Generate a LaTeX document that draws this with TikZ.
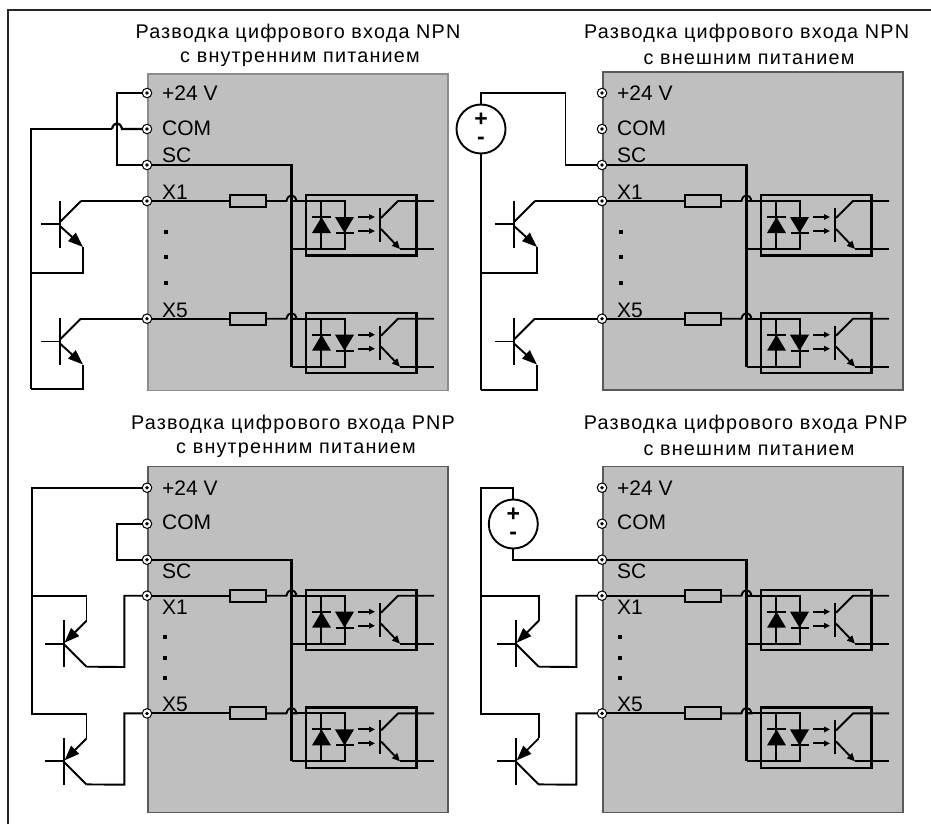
\documentclass[tikz,border=0pt]{standalone}
\usepackage{fontspec}
\setmainfont{Liberation Sans}
\newfontfamily\titlefont[LetterSpace=6]{Liberation Sans}
\usetikzlibrary{arrows.meta}
\definecolor{boxgray}{HTML}{BFBFBF}
\definecolor{boxedge}{HTML}{5A5A5A}
\tikzset{
  wire/.style={line width=1.9pt,line join=miter},
  heavy/.style={line width=2.2pt},
  terminal/.style={circle,draw=black,fill=white,inner sep=0pt,minimum size=9.5pt,line width=1pt,
    path picture={\fill[black] (path picture bounding box.center) circle (1.9pt);}},
  resistor/.style={rectangle,draw=black,fill=boxgray,line width=1.9pt,inner sep=0pt,minimum width=36pt,minimum height=12pt},
  pinlabel/.style={anchor=west,inner sep=0pt,font=\fontsize{21pt}{22pt}\selectfont},
  title/.style={inner sep=0pt,font=\fontsize{19.8pt}{20pt}\titlefont},
  source/.style={circle,draw=black,fill=white,line width=1.9pt,inner sep=0pt,minimum size=49pt,align=center,
    font=\bfseries\fontsize{23pt}{20pt}\selectfont},
  bigtip/.style={-{Triangle[length=15pt,width=11pt]}},
  midtip/.style={-{Triangle[length=8pt,width=7pt]}},
  smalltip/.style={-{Triangle[length=6pt,width=5.5pt]}},
}
% optocoupler: origin at the input line level
\newcommand{\optoc}[3]{%
  \begin{scope}[shift={(#2,#3)}]
    \draw[line width=2.2pt] (159,-6) rectangle (269.5,54.5);
    \draw[wire] (144.5,0) coordinate (#1in) -- (198,0) -- (198,48) -- (144.5,48) coordinate (#1back);
    \draw[wire] (174,0) -- (174,48);
    \fill (165,32) -- (184,32) -- (174.5,16) -- cycle;
    \draw[wire] (165,16) -- (184,16);
    \fill (188,16) -- (207,16) -- (197.5,32) -- cycle;
    \draw[wire] (189,32) -- (207,32);
    \draw[wire,smalltip] (211,16) -- (228,16);
    \draw[wire,smalltip] (211,30) -- (228,30);
    \draw[line width=2pt] (233,7) -- (233,41);
    \draw[wire] (234,17) -- (251,0) -- (287,0);
    \draw[wire,midtip] (234,28) -- (253,48);
    \draw[wire] (253,48) -- (287,48);
  \end{scope}%
}
% box with its pins and its inner circuit
\newcommand{\panelbox}[7]{% name, left, first pin y, box top, box bottom, edge colour, label style (0 NPN, 1 PNP)
  \begin{scope}[shift={(#2,#3)}]
    \fill[boxgray] (1,#4) rectangle (301,#5);
    \draw[#6,line width=1.2pt] (1,#4) rectangle (301,#5);
    \node[pinlabel] at (15,0) {+24 V};
    \node[pinlabel] at (15,35) {COM};
    \ifnum#7=0
      \node[pinlabel] at (15,62) {SC};
      \node[pinlabel] at (15,99.7) {X1};
      \node[pinlabel] at (15,217) {X5};
      \fill (16.5,137) rectangle +(4,4);
      \fill (16.5,162) rectangle +(4,4);
      \fill (16.5,188) rectangle +(4,4);
    \else
      \node[pinlabel] at (15,84) {SC};
      \node[pinlabel] at (15,119.3) {X1};
      \node[pinlabel] at (15,216.3) {X5};
      \fill (15.5,147) rectangle +(4,4);
      \fill (15.5,168) rectangle +(4,4);
      \fill (15.5,188) rectangle +(4,4);
    \fi
    \node[resistor] (#1r1) at (101,108) {};
    \node[resistor] (#1r5) at (101,225.7) {};
    \coordinate (#1bus) at (144.5,72);
    \coordinate (#1j1) at (139.5,108);
    \coordinate (#1j5) at (139.5,225.7);
  \end{scope}
  \optoc{#1oa}{#2}{#3+108}
  \optoc{#1ob}{#2}{#3+225.7}
  \begin{scope}[shift={(#2,#3)}]
    \node[terminal] (#1p) at (0,0) {};
    \node[terminal] (#1c) at (0,36) {};
    \node[terminal] (#1s) at (0,72) {};
    \node[terminal] (#1x) at (0,108) {};
    \node[terminal] (#1y) at (0,225.7) {};
  \end{scope}
  \draw[heavy] (#1s) -- (#1bus) -- (#1obback);
  \draw[wire] (#1oaback) -- (#1oaback-|#1bus);
  \draw[wire] (#1x) -- (#1r1);
  \draw[wire] (#1y) -- (#1r5);
  \draw[wire] (#1r1) -- (#1j1) .. controls +(1.5,-7.5) and +(-1.5,-7.5) .. +(10,0) -- (#1oain);
  \draw[wire] (#1r5) -- (#1j5) .. controls +(1.5,-7.5) and +(-1.5,-7.5) .. +(10,0) -- (#1obin);
}
% NPN: base junction at (#2,#3)
\newcommand{\npnt}[3]{%
  \begin{scope}[shift={(#2,#3)}]
    \draw[wire] (-19,0) -- (0,0);
    \draw[line width=2pt] (0,-23.5) -- (0,23.5);
    \coordinate (#1cb) at (0,-2);
    \coordinate (#1c) at (21,-23);
    \coordinate (#1eb) at (0,2);
    \coordinate (#1e) at (23,23);
    \draw[wire] (#1cb) -- (#1c);
    \draw[wire,bigtip] (#1eb) -- (#1e);
  \end{scope}%
}
% PNP: base junction at (#2,#3)
\newcommand{\pnpt}[3]{%
  \begin{scope}[shift={(#2,#3)}]
    \draw[wire] (-19,0) -- (0,0);
    \draw[line width=2pt] (0,-23.5) -- (0,23.5);
    \coordinate (#1e) at (23,-23);
    \coordinate (#1eb) at (1,-1);
    \coordinate (#1c) at (23,23);
    \coordinate (#1cb) at (0,0);
    \draw[wire,bigtip] (#1e) -- (#1eb);
    \draw[wire] (#1cb) -- (#1c);
  \end{scope}%
}
\begin{document}
\begin{tikzpicture}[x=1pt,y=-1pt]
\useasboundingbox (0,0) rectangle (931,824);
\fill[white] (0,0) rectangle (931,824);
% outer frame (open at right and bottom)
\draw[line width=1.9pt,black!85] (8,824) -- (8,10) -- (931,10);
% titles
\node[title] (t1a) at (298,33) {Разводка цифрового входа NPN};
\node[title] (t1b) at (300,59) {с внутренним питанием};
\node[title] (t2a) at (746.7,33) {Разводка цифрового входа NPN};
\node[title] (t2b) at (749,59) {с внешним питанием};
\node[title] (t3a) at (293,424) {Разводка цифрового входа PNP};
\node[title] (t3b) at (296,450) {с внутренним питанием};
\node[title] (t4a) at (745.8,424) {Разводка цифрового входа PNP};
\node[title] (t4b) at (749,450) {с внешним питанием};
% panels
\panelbox{a}{147}{93}{-19}{297.7}{black!45}{0}
\panelbox{b}{602}{93}{-21}{297}{boxedge}{0}
\panelbox{c}{147}{487.7}{-21.4}{324.6}{boxedge}{1}
\panelbox{d}{602}{487.7}{-21.4}{324.6}{boxedge}{1}

% panel 1: NPN, internal supply
\npnt{aq1}{60}{224}
\npnt{aq2}{60}{341.5}
\coordinate (arailt) at (31,129);
\coordinate (arailb) at (31,389);
\coordinate (arailm) at (31,273);
\coordinate (ajump) at (112,129);
\coordinate (aloop) at (117,93);
\draw[wire] (ap) -- (aloop) -- (aloop|-as) -- (as);
\draw[heavy] (arailb) -- (arailt) -- (ajump);
\draw[heavy] (ajump) .. controls +(1.5,-7.5) and +(-1.5,-7.5) .. +(10,0) -- (ac);
\draw[wire] (aq1c) -- (aq1c|-ax) -- (ax);
\draw[wire] (aq2c) -- (aq2c|-ay) -- (ay);
\draw[heavy] (aq1e) -- (aq1e|-arailm) -- (arailm);
\draw[heavy] (aq2e) -- (aq2e|-arailb) -- (arailb);

% panel 2: NPN, external supply
\npnt{bq1}{514}{224}
\npnt{bq2}{514}{341.5}
\node[source] (bv) at (481,129) {+\\[-2pt]-};
\coordinate (bt) at (481,93);
\coordinate (btr) at (565.5,93);
\coordinate (brailb) at (481,390);
\coordinate (brailm) at (481,273);
\draw[wire] (bv) -- (bt) -- (btr) -- (btr|-bs) -- (bs);
\draw[wire] (bv) -- (brailb);
\draw[wire] (bq1c) -- (bq1c|-bx) -- (bx);
\draw[wire] (bq2c) -- (bq2c|-by) -- (by);
\draw[wire] (bq1e) -- (bq1e|-brailm) -- (brailm);
\draw[wire] (bq2e) -- (bq2e|-brailb) -- (brailb);

% panel 3: PNP, internal supply
\pnpt{cq1}{63.5}{643.7}
\pnpt{cq2}{63.5}{761.4}
\coordinate (crail) at (32,713.7);
\coordinate (cloop) at (117,523.7);
\coordinate (cl1) at (124.3,667);
\coordinate (cl2) at (124.3,784.7);
\draw[wire] (cc) -- (cloop) -- (cloop|-cs) -- (cs);
\draw[wire] (cp) -- (cp-|crail) -- (crail) -- (crail-|cq2e) -- (cq2e);
\draw[wire] (crail|-cx) -- (cq1e|-cx) -- (cq1e);
\draw[wire] (cq1c) -- (cl1) -- (cl1|-cx) -- (cx);
\draw[wire] (cq2c) -- (cl2) -- (cl2|-cy) -- (cy);

% panel 4: PNP, external supply
\pnpt{dq1}{515.7}{643.7}
\pnpt{dq2}{515.7}{761.4}
\node[source] (dv) at (513.3,524) {+\\[-2pt]-};
\coordinate (dt) at (513.3,487.7);
\coordinate (dtl) at (481,487.7);
\coordinate (drail) at (481,713.7);
\coordinate (dl1) at (576.3,667);
\coordinate (dl2) at (576.3,784.7);
\draw[wire] (dv) -- (dt) -- (dtl) -- (drail) -- (drail-|dq2e) -- (dq2e);
\draw[wire] (dv) -- (dv|-ds) -- (ds);
\draw[wire] (drail|-dx) -- (dq1e|-dx) -- (dq1e);
\draw[wire] (dq1c) -- (dl1) -- (dl1|-dx) -- (dx);
\draw[wire] (dq2c) -- (dl2) -- (dl2|-dy) -- (dy);
\end{tikzpicture}
\end{document}
